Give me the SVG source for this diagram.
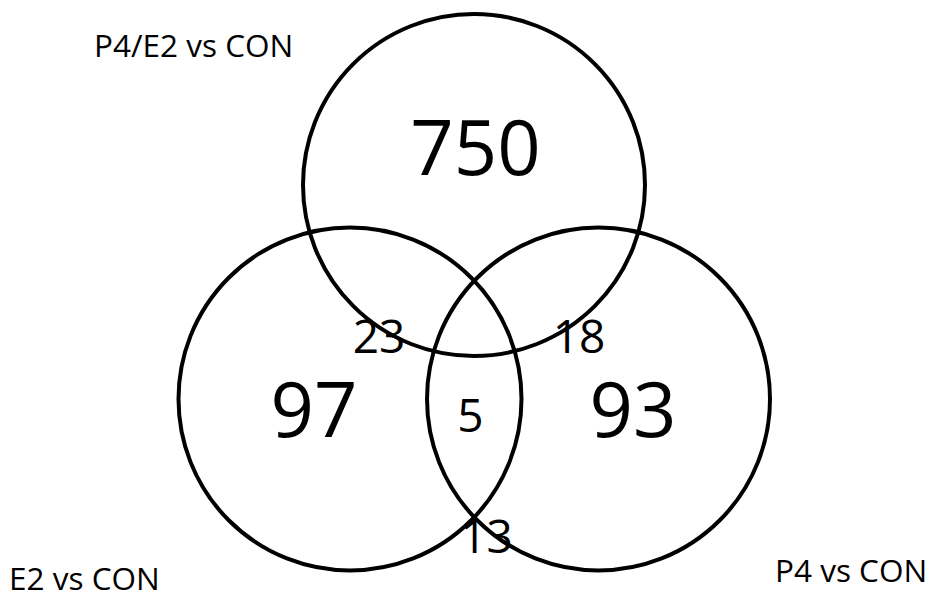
<svg xmlns="http://www.w3.org/2000/svg" width="938" height="599" viewBox="0 0 938 599">
<style>
.c{fill:none;stroke:#000;stroke-width:4}
.t{font-family:"Open Sans","Liberation Sans",sans-serif;fill:#000}
.big{font-size:76px;text-anchor:middle}
.sm{font-size:46px;text-anchor:middle}
.lb{font-size:31.5px}
</style>
<rect width="938" height="599" fill="#fff"/>
<g id="connectors"></g>
<g id="set-p4e2"><circle class="c" cx="474" cy="185" r="171"/><text class="t big" x="475.5" y="175">750</text><text class="t lb" x="94" y="57">P4/E2 vs CON</text></g>
<g id="set-e2"><circle class="c" cx="350" cy="399" r="171.5"/><text class="t big" x="314" y="437">97</text><text class="t lb" x="9" y="590">E2 vs CON</text></g>
<g id="set-p4"><circle class="c" cx="598.5" cy="399" r="171.5"/><text class="t big" x="633" y="437">93</text><text class="t lb" x="775" y="582">P4 vs CON</text></g>
<g id="overlap-e2-p4e2"><text class="t sm" x="379" y="353">23</text></g>
<g id="overlap-p4-p4e2"><text class="t sm" x="579" y="353">18</text></g>
<g id="overlap-all"><text class="t sm" x="470.5" y="432">5</text></g>
<g id="overlap-e2-p4"><text class="t sm" x="486.5" y="553">13</text></g>
</svg>
